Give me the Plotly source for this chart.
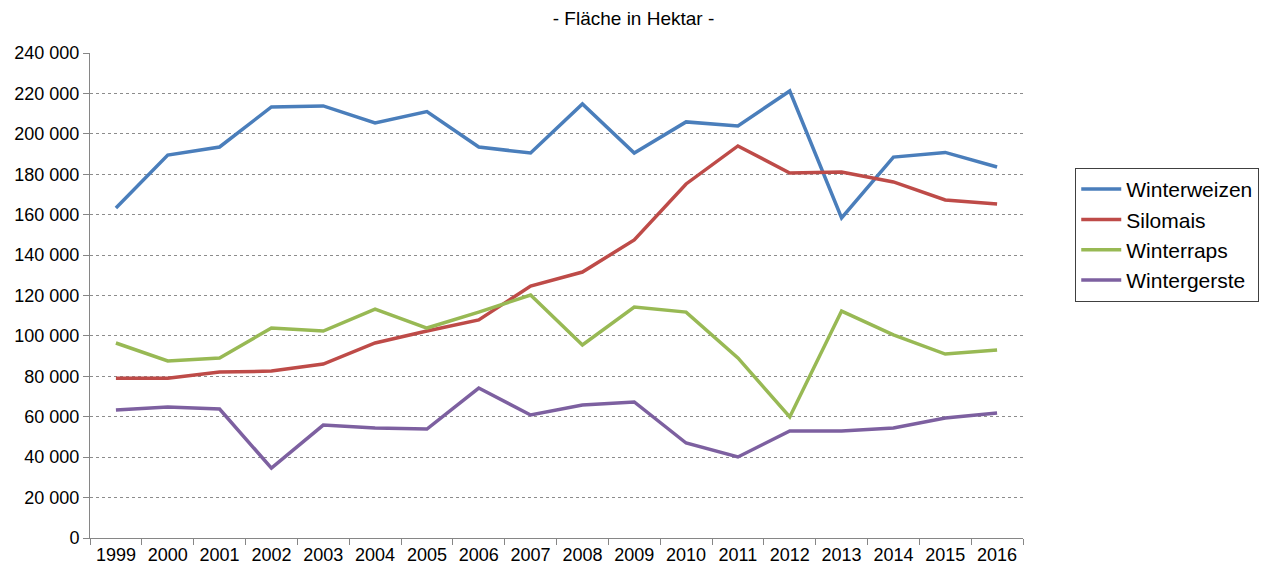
import plotly.graph_objects as go

years = [str(y) for y in range(1999, 2017)]

winterweizen = [163300, 189500, 193500, 213300, 213800, 205400, 211000, 193500, 190500,
                214800, 190500, 205900, 203900, 221200, 158400, 188500, 190800, 183600]
silomais = [79000, 79000, 82100, 82600, 86100, 96500, 102400, 107900, 124700,
            131600, 147500, 175200, 194000, 180600, 181100, 176200, 167300, 165300]
winterraps = [96500, 87600, 89100, 103900, 102400, 113300, 103900, 111800, 120200,
              95500, 114300, 111800, 89100, 59900, 112300, 100500, 91000, 93000]
wintergerste = [63300, 64800, 63800, 34600, 55900, 54400, 53900, 74200, 60900,
                65800, 67300, 47000, 40100, 53000, 53000, 54400, 59400, 61900]

series = [
    ("Winterweizen", winterweizen, "#4A7EBB"),
    ("Silomais", silomais, "#BE4B48"),
    ("Winterraps", winterraps, "#98B954"),
    ("Wintergerste", wintergerste, "#7D60A0"),
]

fig = go.Figure()
for name, vals, color in series:
    fig.add_trace(go.Scatter(
        x=years, y=vals, name=name, mode="lines",
        line=dict(color=color, width=3.5)
    ))

# page body has an 8px margin, so the figure is sized/offset to compensate
fig.update_layout(
    title=dict(text="- Fläche in Hektar -", x=0.5, xanchor="center", y=0.982, yanchor="middle",
               font=dict(size=19, color="#000000")),
    font=dict(family="Liberation Sans, Arial, sans-serif", size=18, color="#000000"),
    separators=", ",
    width=1251, height=558,
    margin=dict(l=82, r=236, t=45, b=28, autoexpand=False),
    plot_bgcolor="white", paper_bgcolor="white",
    legend=dict(
        x=1.056, y=0.763, xanchor="left", yanchor="top",
        bordercolor="#404040", borderwidth=1, bgcolor="white",
        font=dict(size=21), tracegroupgap=0, itemwidth=40
    ),
    showlegend=True
)

fig.update_xaxes(
    type="category", range=[-0.5, 17.5], tickson="boundaries", ticks="outside", ticklen=6,
    tickcolor="#868686", showline=True, linecolor="#868686", linewidth=1,
    showgrid=False, tickfont=dict(size=18)
)
fig.update_yaxes(
    range=[0, 240000], dtick=20000, tickformat=",d",
    ticks="outside", ticklen=6, tickcolor="#868686",
    showline=True, linecolor="#868686", linewidth=1,
    showgrid=True, gridcolor="#8c8c8c", griddash="dot", gridwidth=1,
    zeroline=False, tickfont=dict(size=18)
)

fig.write_html("out.html")
